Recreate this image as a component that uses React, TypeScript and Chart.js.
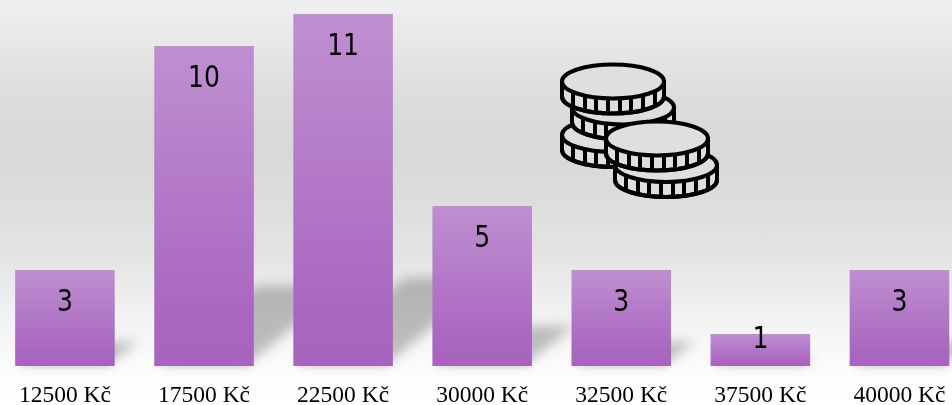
import React, { useEffect, useRef } from "react";
import { Chart, registerables } from "chart.js";

Chart.register(...registerables);

const categories = ["12500 Kč", "17500 Kč", "22500 Kč", "30000 Kč", "32500 Kč", "37500 Kč", "40000 Kč"];
const counts = [3, 10, 11, 5, 3, 1, 3];

const shadowPlugin = {
  id: "barShadows",
  beforeDatasetsDraw(chart: any) {
    const { ctx } = chart;
    const meta = chart.getDatasetMeta(0);
    ctx.save();
    ctx.filter = "blur(6px)";
    ctx.fillStyle = "rgba(0,0,0,0.24)";
    meta.data.forEach((bar: any) => {
      const h = bar.base - bar.y;
      const half = bar.width / 2 - 6;
      const rise = h * 0.25;
      const dx = h * 0.3;
      ctx.beginPath();
      ctx.moveTo(bar.x - half, bar.base - 2);
      ctx.lineTo(bar.x + half, bar.base - 2);
      ctx.lineTo(bar.x + half + dx, bar.base - rise);
      ctx.lineTo(bar.x - half + dx, bar.base - rise);
      ctx.closePath();
      ctx.fill();
    });
    ctx.filter = "blur(1.5px)";
    ctx.fillStyle = "rgba(0,0,0,0.07)";
    meta.data.forEach((bar: any) => {
      ctx.fillRect(bar.x - bar.width / 2 + 3, bar.base, bar.width - 6, 2);
    });
    ctx.restore();
  },
};

const valueLabelPlugin = {
  id: "valueLabels",
  afterDatasetsDraw(chart: any) {
    const { ctx } = chart;
    const meta = chart.getDatasetMeta(0);
    ctx.fillStyle = "#000";
    ctx.font = '31px "DejaVu Sans Condensed", "DejaVu Sans"';
    ctx.textAlign = "center";
    ctx.textBaseline = "middle";
    meta.data.forEach((bar: any, i: number) => {
      const offset = counts[i] >= 3 ? 32 : 5;
      ctx.save();
      ctx.translate(bar.x, bar.y + offset + 1);
      ctx.scale(0.9, 1);
      ctx.fillText(String(counts[i]), 0, 0);
      ctx.restore();
    });
  },
};

const coins: [number, number][] = [
  [613, 135],
  [623, 107.5],
  [613, 81.5],
  [666, 165],
  [657, 138.5],
];

function Coin({ cx, cy }: { cx: number; cy: number }) {
  const rx = 51;
  const ry = 17;
  const depth = 15;
  const ticks = [-40, -28, -17, -5, 7, 18, 30, 42];
  const rim = `M${cx - rx} ${cy} V${cy + depth} A${rx} ${ry} 0 0 0 ${cx + rx} ${cy + depth} V${cy}`;
  return (
    <g>
      <path d={`${rim} Z`} fill="#dfdfdf" />
      {ticks.map((t) => {
        const y = cy + ry * Math.sqrt(1 - (t * t) / (rx * rx));
        return <line key={t} x1={cx + t} x2={cx + t} y1={y} y2={y + depth} />;
      })}
      <path d={rim} fill="none" />
      <ellipse cx={cx} cy={cy} rx={rx} ry={ry} fill="#dfdfdf" />
    </g>
  );
}

export default function App() {
  const ref = useRef<HTMLCanvasElement>(null);

  useEffect(() => {
    const chart = new Chart(ref.current!, {
      type: "bar",
      data: {
        labels: categories,
        datasets: [
          {
            data: counts,
            barPercentage: 0.716,
            categoryPercentage: 1,
            backgroundColor: (c: any) => {
              const { ctx, scales } = c.chart;
              const y = scales.y;
              const top = y ? y.getPixelForValue(c.raw ?? 0) : NaN;
              const base = y ? y.getPixelForValue(0) : NaN;
              if (!Number.isFinite(top) || !Number.isFinite(base)) return "#a866bf";
              const g = ctx.createLinearGradient(0, top, 0, base);
              g.addColorStop(0, "#bf8fd1");
              g.addColorStop(0.85, "#a966c0");
              g.addColorStop(1, "#a864bd");
              return g;
            },
          },
        ],
      },
      options: {
        responsive: false,
        animation: false,
        layout: { padding: { top: 14, left: 0.4, right: 0, bottom: 0 } },
        plugins: { legend: { display: false }, title: { display: false }, tooltip: { enabled: false } },
        scales: {
          y: { display: false, min: 0, max: 11 },
          x: {
            afterFit(s: any) {
              s.height = 39;
            },
            grid: { display: false },
            border: { display: false },
            ticks: {
              autoSkip: false,
              maxRotation: 0,
              padding: 8,
              color: "#000",
              font: { family: '"Liberation Serif"', size: 23.5 },
            },
          },
        },
      },
      plugins: [shadowPlugin, valueLabelPlugin],
    } as any);
    return () => chart.destroy();
  }, []);

  return (
    <div
      style={{
        position: "absolute",
        left: 0,
        top: 0,
        width: 952,
        height: 405,
        overflow: "hidden",
        background:
          "linear-gradient(180deg,#f0f0f0 0px,#dcdcdc 100px,#d8d8d8 145px,#dbdbdb 185px,#e4e4e4 255px,#f3f3f3 320px,#fbfbfb 366px,#ffffff 405px)",
      }}
    >
      <canvas ref={ref} width={974} height={405} style={{ position: "absolute", left: -5, top: 0 }} />
      <svg
        width={952}
        height={405}
        style={{ position: "absolute", left: 0, top: 0 }}
        stroke="#000"
        strokeWidth={4}
        strokeLinejoin="round"
        strokeLinecap="butt"
      >
        {coins.map(([x, y]) => (
          <Coin key={`${x}-${y}`} cx={x} cy={y} />
        ))}
      </svg>
    </div>
  );
}
